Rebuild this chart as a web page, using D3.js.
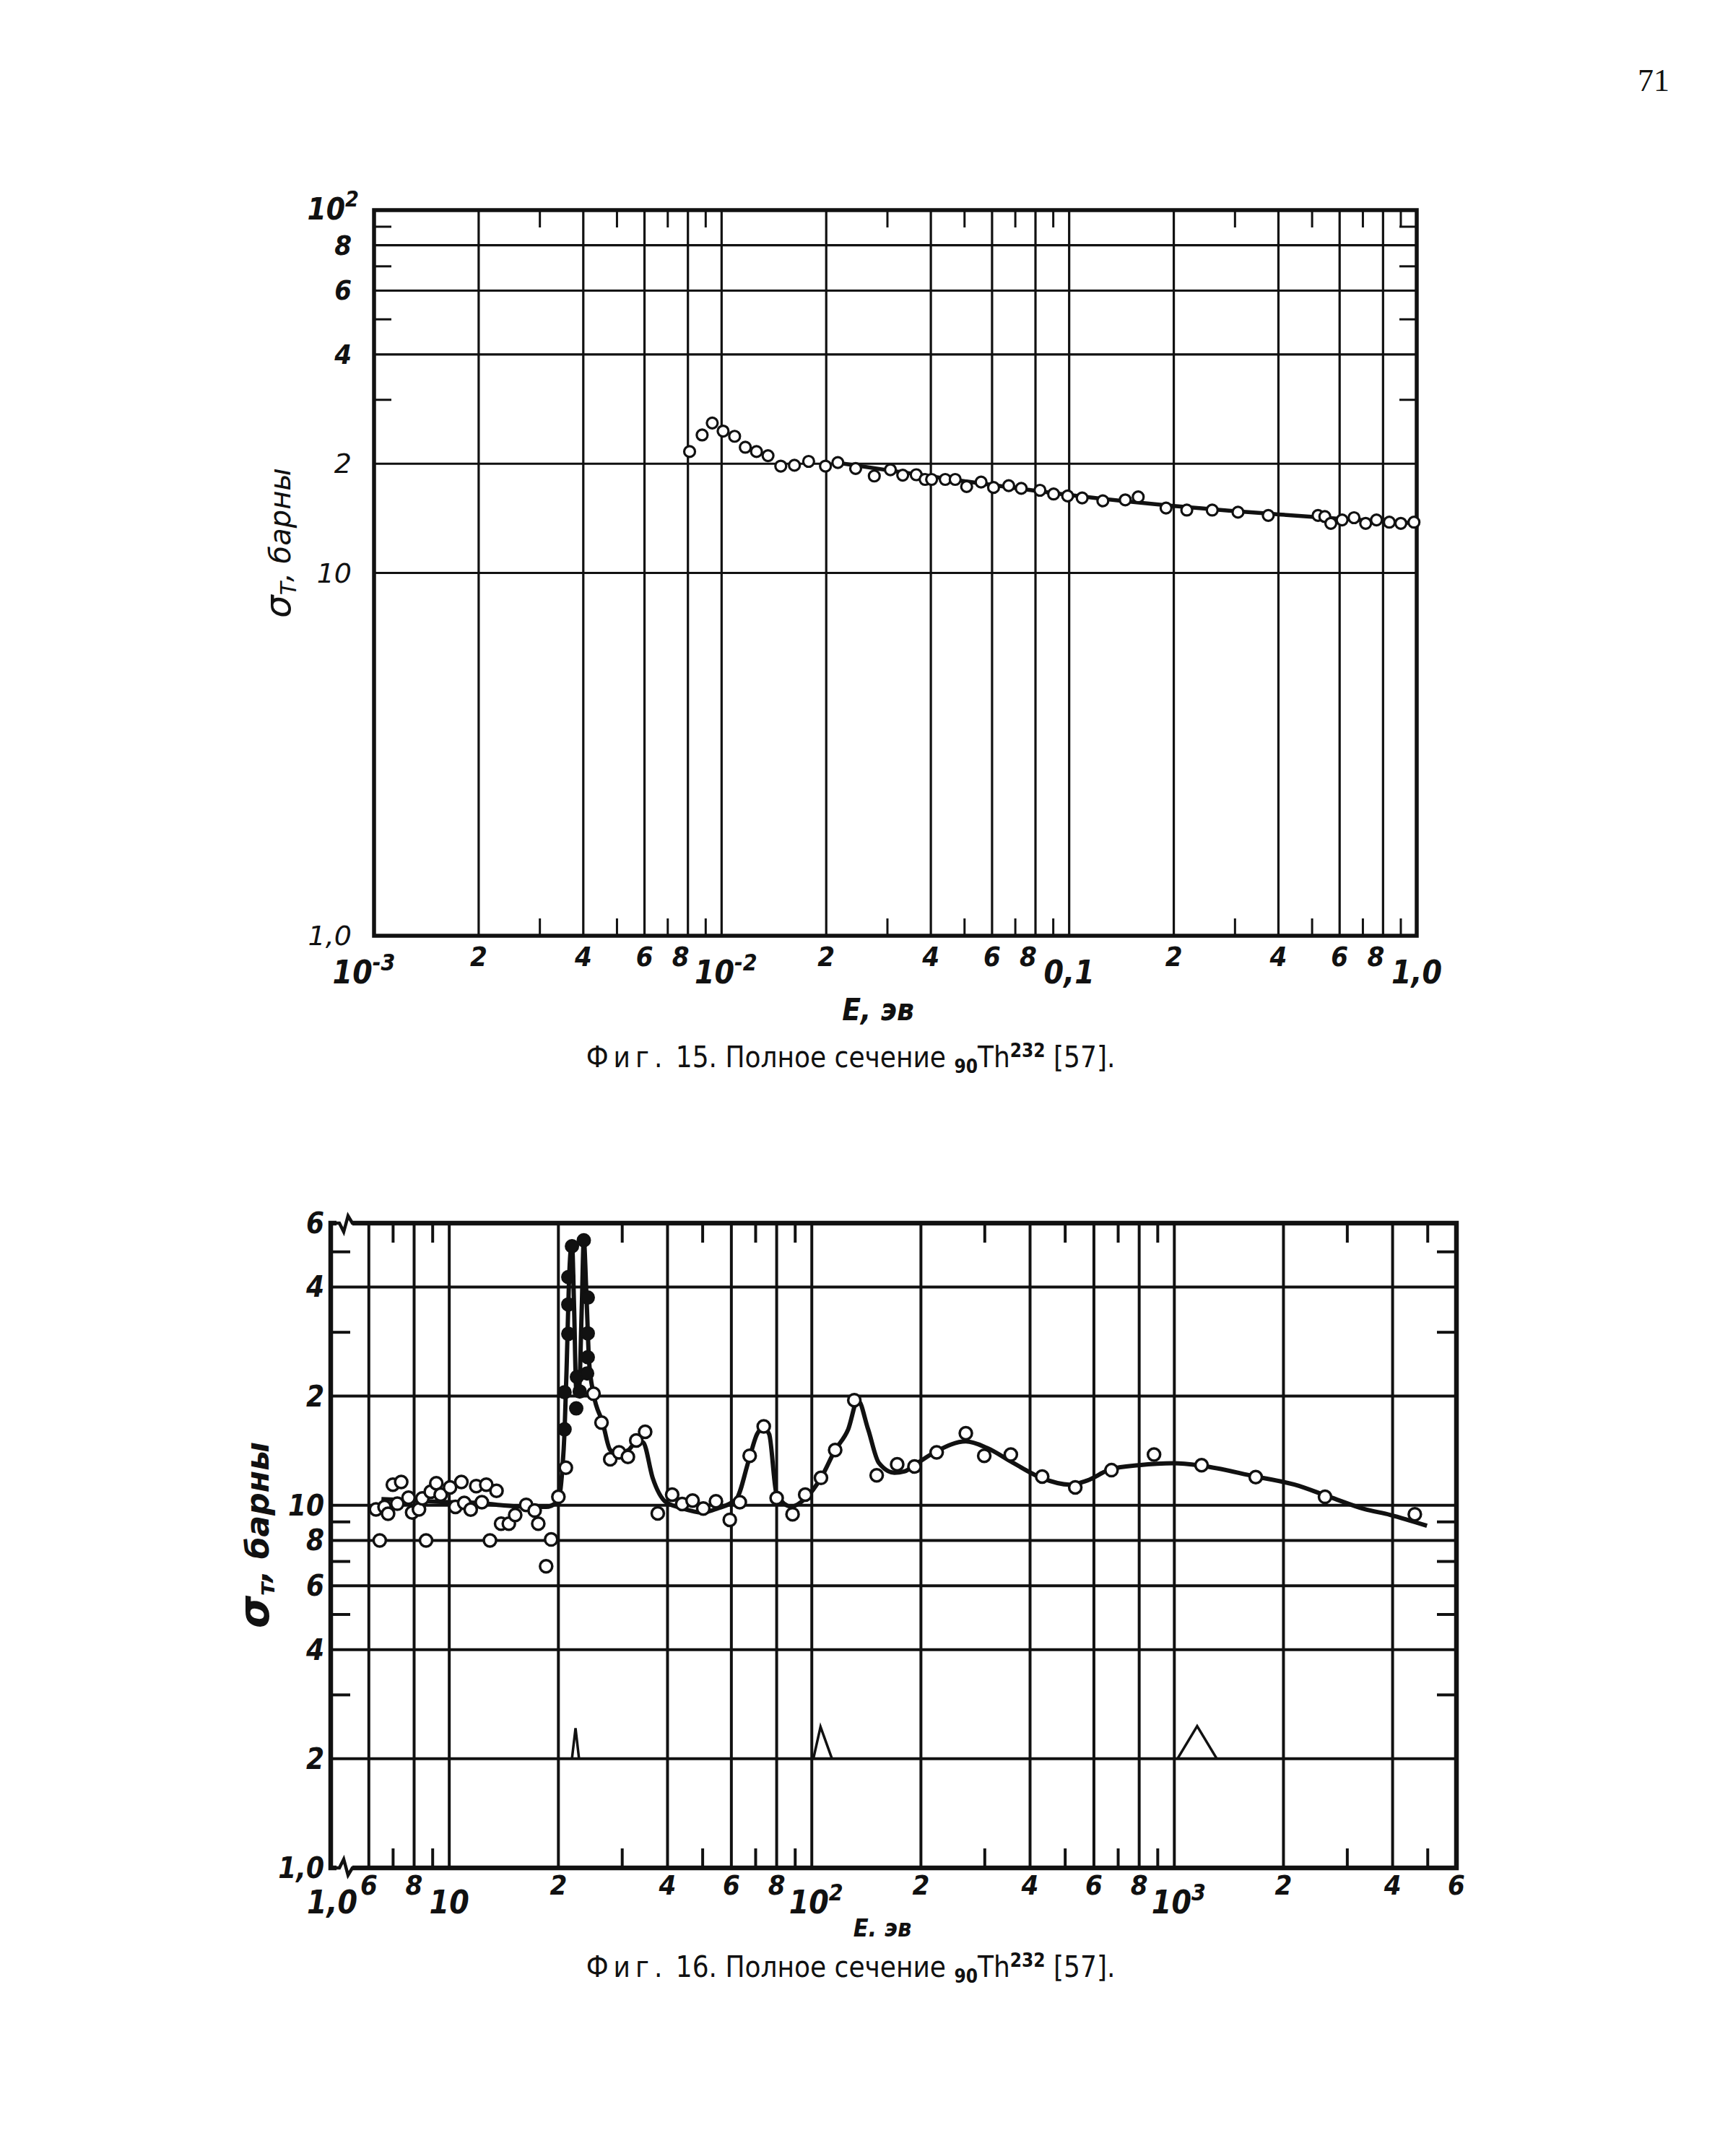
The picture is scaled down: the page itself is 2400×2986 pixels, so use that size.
<!DOCTYPE html>
<html><head><meta charset="utf-8">
<script src="https://cdn.jsdelivr.net/npm/d3@7"></script>
<style>body{margin:0;background:#fff}</style>
</head><body>
<script>
// ---------------- Fig. 15 data ----------------
const fig15PointE = [0.00809,0.00879,0.0094,0.0101,0.0109,0.0117,0.0126,0.0136,0.0148,0.0162,0.0178,0.0199,0.0216,0.0243,0.0275,0.0306,0.0332,0.0363,0.0385,0.0402,0.044,0.047,0.0507,0.0558,0.0606,0.067,0.0728,0.0824,0.0902,0.099,0.109,0.125,0.145,0.158,0.19,0.218,0.258,0.306,0.374,0.52,0.544,0.566,0.61,0.66,0.713,0.766,0.834,0.9,0.982];
const fig15PointSigma = [21.6,24.0,25.9,24.6,23.8,22.2,21.6,21.05,19.7,19.8,20.3,19.7,20.15,19.4,18.5,19.25,18.6,18.65,18.1,18.1,18.1,18.1,17.3,17.8,17.2,17.4,17.1,16.9,16.5,16.3,16.1,15.8,15.9,16.2,15.1,14.9,14.9,14.7,14.4,14.4,14.3,13.7,14.0,14.2,13.7,14.0,13.8,13.7,13.8];
const fig15CurveE = [0.021,0.03,0.05,0.1,0.2,0.4,0.6,1.0];
const fig15CurveSigma = [20.2,19.2,17.9,16.4,15.3,14.5,14.1,13.7];
const fig15XTicks = [0.001,0.002,0.004,0.006,0.008,0.01,0.02,0.04,0.06,0.08,0.1,0.2,0.4,0.6,0.8,1];
const fig15XLabels = ["10^-3","2","4","6","8","10^-2","2","4","6","8","0,1","2","4","6","8","1,0"];
const fig15XMinor = [0.003,0.005,0.007,0.009,0.03,0.05,0.07,0.09,0.3,0.5,0.7,0.9];
const fig15YTicks = [100,80,60,40,20,10,1];
const fig15YLabels = ["10^2","8","6","4","2","10","1,0"];
const fig15YGrid = [10,20,40,60,80];
const fig15YMinor = [30,50,70,90];

// ---------------- Fig. 16 data ----------------
const fig16OpenE = [6.28,6.43,6.63,6.78,6.99,7.37,7.19,7.72,7.9,8.25,8.43,8.63,8.89,9.21,9.47,10.05,10.4,10.8,11.0,11.46,11.87,12.3,12.65,12.95,13.5,13.9,14.6,15.2,16.3,17.2,17.6,18.5,19.1,20.0,20.97,
  25.0,26.3,27.8,29.4,31.1,32.8,34.7,37.6,41.2,43.9,46.9,50.2,54.4,59.4,63.3,67.4,73.7,80.0,88.5,95.9,106,116,131,151,172,192,221,266,299,354,432,533,671,879,1189,1677,2604,4606];
const fig16OpenSigma = [9.74,8.0,9.9,9.48,11.4,11.6,10.1,10.5,9.55,9.74,10.45,8.0,10.9,11.5,10.7,11.2,9.9,11.6,10.15,9.73,11.3,10.2,11.4,8.0,10.96,8.9,8.9,9.4,10.03,9.67,8.9,6.79,8.05,10.55,12.7,
  20.3,16.9,13.4,14.0,13.6,15.1,15.95,9.5,10.7,10.08,10.3,9.8,10.26,9.12,10.2,13.7,16.5,10.47,9.45,10.7,11.9,14.2,19.5,12.1,12.97,12.8,14.0,15.8,13.7,13.8,12.0,11.2,12.5,13.8,12.9,11.96,10.55,9.45];
const fig16FilledE = [20.8,20.8,21.3,21.3,21.3,21.8,22.4,22.5,22.9,23.5,24.1,24.1,24.1,24.0];
const fig16FilledSigma = [16.2,20.5,29.7,35.8,42.6,51.8,18.5,22.6,20.6,53.8,37.4,29.8,25.6,23.1];
const fig16CurveE = [6.5,8,10,12,14,16.6,18.5,20,20.5,20.8,21.1,21.4,21.8,22.1,22.4,22.8,23.2,23.5,23.9,24.3,25.0,26.5,27.8,29.1,31.2,33.1,34.3,36.4,39.6,43.4,49.9,54.9,61.9,67,70.6,73.5,76.3,80,87.8,96.5,106,116,126,134,143,153,169,180,196,221,266,304,359,430,514,574,671,798,995,1189,1677,2146,2678,3339,3938,4976];
const fig16CurveSigma = [10.4,10.3,10.2,10.15,10.0,9.9,9.9,10.3,12.5,16,25,42,53,35,21,21,35,54,38,25,20.3,16.9,14.2,13.9,14.2,15.1,14.9,11.9,10.2,9.85,9.55,9.8,10.4,13.3,15.7,16.4,15.7,10.7,9.92,10.5,11.9,14.2,16.2,19.5,16.2,13.1,12.3,12.4,13.1,14.1,15.0,14.4,13.1,11.9,11.4,11.7,12.6,12.9,13.06,12.86,12.0,11.4,10.55,9.77,9.41,8.78];
const fig16ResolutionE = [[21.8,22.3,22.8],[101,105.7,113.7],[1020,1156,1310]];
const fig16ResolutionSigma = [[2,2.43,2],[2,2.45,2],[2,2.46,2]];
const fig16XTicks = [4.71,6,8,10,20,40,60,80,100,200,400,600,800,1000,2000,4000,6000];
const fig16XLabels = ["1,0","6","8","10","2","4","6","8","10^2","2","4","6","8","10^3","2","4","6"];
const fig16XGrid = [6,8,10,20,40,60,80,100,200,400,600,800,1000,2000,4000];
const fig16XMinor = [7,9,30,50,70,90,300,500,700,900,3000,5000];
const fig16YTicks = [60,40,20,10,8,6,4,2,1];
const fig16YLabels = ["6","4","2","10","8","6","4","2","1,0"];
const fig16YGrid = [2,4,6,8,10,20,40];
const fig16YMinor = [3,5,7,9,30,50];

// ---------------- drawing ----------------
const W = 2400, H = 2986, INK = "#111";
const NARROW = "'Liberation Sans Narrow','DejaVu Sans Condensed','Liberation Sans',sans-serif";
const svg = d3.select("body").append("svg").attr("width", W).attr("height", H);
svg.append("rect").attr("width", W).attr("height", H).attr("fill", "#fff");

function label(g, x, y, txt, o) {
  const size = o.size;
  const t = g.append("text").attr("x", x).attr("y", y)
    .attr("font-family", o.family || NARROW).attr("font-size", size)
    .attr("font-weight", o.weight || "bold").attr("font-style", o.style || "italic")
    .attr("text-anchor", o.anchor || "middle").attr("fill", INK);
  const parts = txt.split("^");
  t.append("tspan").text(parts[0]);
  if (parts[1]) t.append("tspan").attr("dy", -size * 0.42).attr("font-size", size * 0.72).text(parts[1]);
  return t;
}

function panel(cfg) {
  const g = svg.append("g");
  const {x, y} = cfg;
  const [xl, xr] = x.range(), [yb, yt] = y.range();
  g.selectAll(null).data(cfg.xGrid).join("line")
    .attr("x1", d => x(d)).attr("x2", d => x(d)).attr("y1", yt).attr("y2", yb)
    .attr("stroke", INK).attr("stroke-width", cfg.grid);
  g.selectAll(null).data(cfg.yGrid).join("line")
    .attr("y1", d => y(d)).attr("y2", d => y(d)).attr("x1", xl).attr("x2", xr)
    .attr("stroke", INK).attr("stroke-width", cfg.grid);
  cfg.xMinor.forEach(d => {
    g.append("line").attr("x1", x(d)).attr("x2", x(d)).attr("y1", yt).attr("y2", yt + cfg.tick).attr("stroke", INK).attr("stroke-width", cfg.tickW);
    g.append("line").attr("x1", x(d)).attr("x2", x(d)).attr("y1", yb).attr("y2", yb - cfg.tick).attr("stroke", INK).attr("stroke-width", cfg.tickW);
  });
  cfg.yMinor.forEach(d => {
    g.append("line").attr("y1", y(d)).attr("y2", y(d)).attr("x1", xl).attr("x2", xl + cfg.tick).attr("stroke", INK).attr("stroke-width", cfg.tickW);
    g.append("line").attr("y1", y(d)).attr("y2", y(d)).attr("x1", xr).attr("x2", xr - cfg.tick).attr("stroke", INK).attr("stroke-width", cfg.tickW);
  });
  g.append("rect").attr("x", xl).attr("y", yt).attr("width", xr - xl).attr("height", yb - yt)
    .attr("fill", "none").attr("stroke", INK).attr("stroke-width", cfg.frame);
  return g;
}

// ===== Fig. 15 =====
const x1 = d3.scaleLog().domain([1e-3, 1]).range([518, 1962]);
const y1 = d3.scaleLog().domain([1, 100]).range([1296, 291]);
const g1 = panel({x: x1, y: y1, xGrid: fig15XTicks.slice(1, -1), yGrid: fig15YGrid,
  xMinor: fig15XMinor, yMinor: fig15YMinor, grid: 3.2, frame: 5.5, tick: 24, tickW: 3});

const line1 = d3.line().x(d => x1(d[0])).y(d => y1(d[1])).curve(d3.curveMonotoneX);
g1.append("path").datum(d3.zip(fig15CurveE, fig15CurveSigma)).attr("d", line1)
  .attr("fill", "none").attr("stroke", INK).attr("stroke-width", 5.5);
g1.selectAll(null).data(d3.zip(fig15PointE, fig15PointSigma)).join("circle")
  .attr("cx", d => x1(d[0])).attr("cy", d => y1(d[1])).attr("r", 7.5)
  .attr("fill", "#fff").attr("stroke", INK).attr("stroke-width", 3.2);

fig15XTicks.forEach((v, i) => {
  const t = fig15XLabels[i];
  const low = t.includes("^") || t.includes(",");
  const nudge = i === 0 ? -14 : (t.includes("^") ? 6 : (t === "8" ? -10 : 0));
  label(g1, x1(v) + nudge, low ? 1362 : 1338, t, {size: low ? 44 : 38});
});
fig15YTicks.forEach((v, i) => {
  const t = fig15YLabels[i];
  const heavy = ["10^2", "8", "6", "4"].includes(t);
  label(g1, t === "10^2" ? 497 : 487, y1(v) + 13, t, {size: t === "10^2" ? 42 : 38, anchor: "end", weight: heavy ? "bold" : "normal",
    family: heavy ? NARROW : "'DejaVu Sans',sans-serif"});
});
const yt1 = g1.append("text").attr("transform", "translate(402,752) rotate(-90)")
  .attr("text-anchor", "middle").attr("font-family", "'DejaVu Sans',sans-serif")
  .attr("font-style", "italic").attr("font-size", 40).attr("fill", INK);
yt1.append("tspan").attr("font-size", 50).text("σ");
yt1.append("tspan").attr("dy", 8).attr("font-size", 30).text("T");
yt1.append("tspan").attr("dy", -8).text(", барны");
label(g1, 1216, 1413, "E, эв", {size: 42});

function caption(y, num) {
  const t = svg.append("text").attr("x", 1178).attr("y", y).attr("text-anchor", "middle")
    .attr("font-family", NARROW).attr("font-size", 40).attr("fill", INK);
  t.append("tspan").attr("letter-spacing", 7).text("Фиг.");
  t.append("tspan").text(" " + num + ". Полное сечение ");
  t.append("tspan").attr("font-size", 26).attr("font-weight", "bold").attr("dy", 8).text("90");
  t.append("tspan").attr("dy", -8).text("Th");
  t.append("tspan").attr("font-size", 26).attr("font-weight", "bold").attr("dy", -14).text("232");
  t.append("tspan").attr("dy", 14).text(" [57].");
}
caption(1478, 15);

// ===== Fig. 16 =====
const x2 = d3.scaleLog().domain([4.71, 6000]).range([458, 2017]);
const y2 = d3.scaleLog().domain([1, 60]).range([2587, 1694]);
const g2 = panel({x: x2, y: y2, xGrid: fig16XGrid, yGrid: fig16YGrid,
  xMinor: fig16XMinor, yMinor: fig16YMinor, grid: 4, frame: 6.5, tick: 27, tickW: 4});

// axis break marks
[[1694, -1], [2587, 1]].forEach(([yy, s]) => {
  g2.append("rect").attr("x", 466).attr("y", yy - 5).attr("width", 22).attr("height", 10).attr("fill", "#fff");
  g2.append("path").attr("d", `M464,${yy} L470,${yy} L476,${yy - 12 * s} L482,${yy + 10 * s} L488,${yy} L492,${yy}`)
    .attr("fill", "none").attr("stroke", INK).attr("stroke-width", 4.5);
});

fig16ResolutionE.forEach((es, k) => {
  g2.append("path").datum(d3.zip(es, fig16ResolutionSigma[k]))
    .attr("d", d3.line().x(d => x2(d[0])).y(d => y2(d[1])))
    .attr("fill", "none").attr("stroke", INK).attr("stroke-width", 3.5);
});

const line2 = d3.line().x(d => x2(d[0])).y(d => y2(d[1])).curve(d3.curveMonotoneX);
g2.append("path").datum(d3.zip(fig16CurveE, fig16CurveSigma)).attr("d", line2)
  .attr("fill", "none").attr("stroke", INK).attr("stroke-width", 6);
g2.selectAll(null).data(d3.zip(fig16OpenE, fig16OpenSigma)).join("circle")
  .attr("cx", d => x2(d[0])).attr("cy", d => y2(d[1])).attr("r", 8.5)
  .attr("fill", "#fff").attr("stroke", INK).attr("stroke-width", 3.5);
g2.selectAll(null).data(d3.zip(fig16FilledE, fig16FilledSigma)).join("circle")
  .attr("cx", d => x2(d[0])).attr("cy", d => y2(d[1])).attr("r", 9)
  .attr("fill", INK).attr("stroke", INK).attr("stroke-width", 2);

fig16XTicks.forEach((v, i) => {
  const t = fig16XLabels[i];
  const low = t.startsWith("10") || t === "1,0";
  const nudge = i === 0 ? 2 : (t.includes("^") ? 6 : 0);
  label(g2, x2(v) + nudge, low ? 2650 : 2624, t, {size: low ? 44 : 38});
});
fig16YTicks.forEach((v, i) => {
  label(g2, 449, y2(v) + 14, fig16YLabels[i], {size: 40, anchor: "end"});
});
const yt2 = g2.append("text").attr("transform", "translate(372,2126) rotate(-90)")
  .attr("text-anchor", "middle").attr("font-family", "'DejaVu Sans',sans-serif")
  .attr("font-style", "italic").attr("font-weight", "bold").attr("font-size", 44).attr("fill", INK);
yt2.append("tspan").attr("font-size", 58).text("σ");
yt2.append("tspan").attr("dy", 8).attr("font-size", 32).text("т");
yt2.append("tspan").attr("dy", -8).text(", барны");
label(g2, 1222, 2682, "E. эв", {size: 34});
caption(2738, 16);

svg.append("text").attr("x", 2290).attr("y", 126).attr("text-anchor", "middle")
  .attr("font-family", "'Liberation Serif',serif").attr("font-size", 44).attr("fill", INK).text("71");
</script>
</body></html>
